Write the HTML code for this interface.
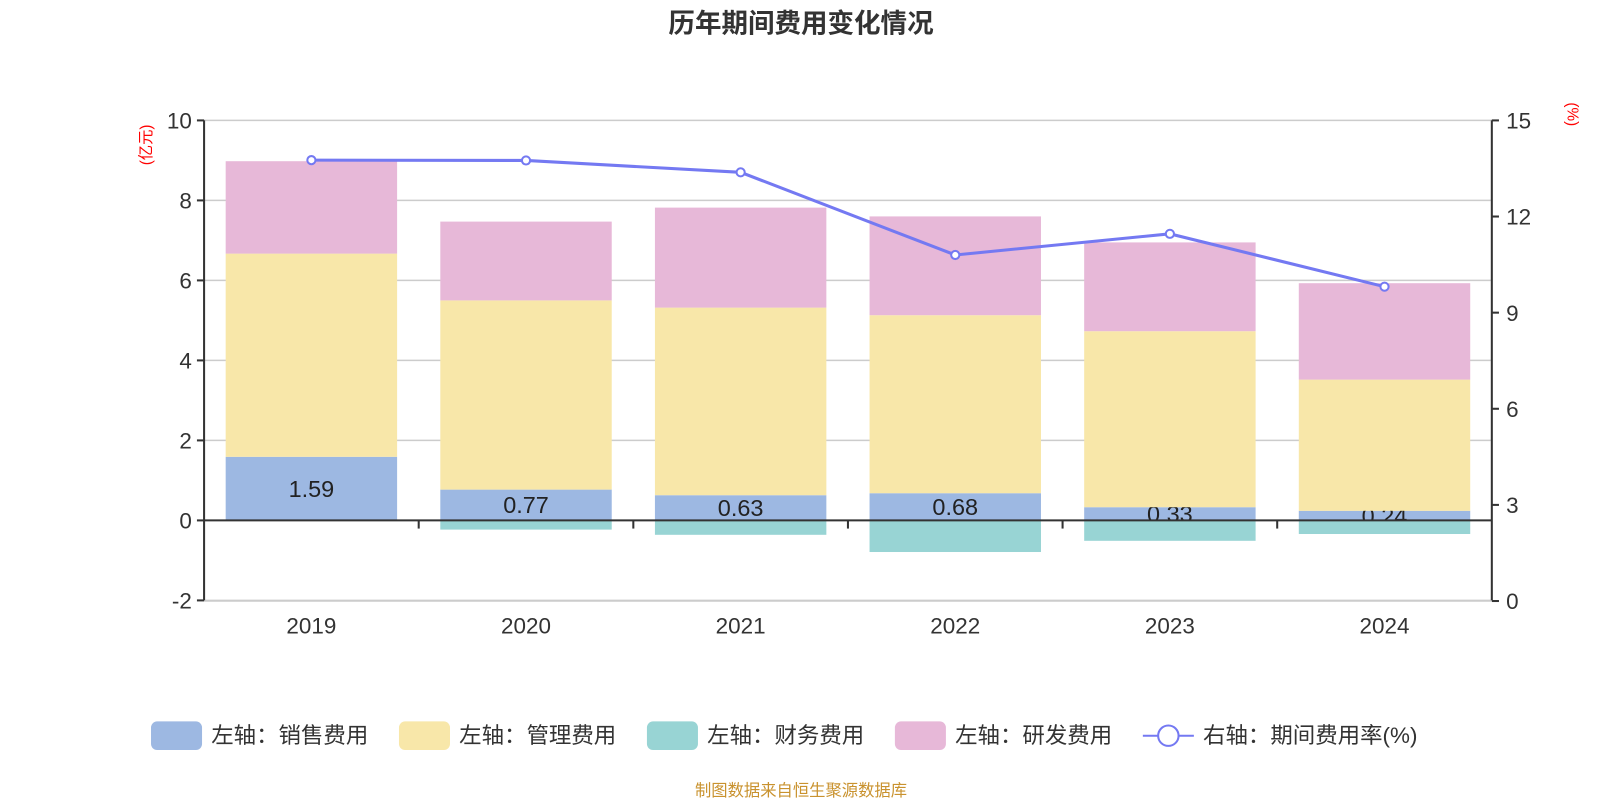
<!DOCTYPE html>
<html><head><meta charset="utf-8"><style>
html,body{margin:0;padding:0;background:#fff;width:1600px;height:800px;overflow:hidden}
svg{display:block;font-family:"Liberation Sans","Noto Sans CJK SC",sans-serif}
</style></head><body>
<svg width="1600" height="800"><g id="c" transform="scale(1.0204)"></g></svg>
<script>
const categories=['2019','2020','2021','2022','2023','2024'];
const sales=[1.59,0.77,0.63,0.68,0.33,0.24];
const mgmt=[5.08,4.73,4.69,4.45,4.40,3.28];
const finance=[0,-0.23,-0.36,-0.79,-0.51,-0.34];
const rnd=[2.31,1.97,2.50,2.47,2.22,2.41];
const rate=[13.76,13.75,13.38,10.8,11.46,9.81];
const leftTicks=[-2,0,2,4,6,8,10];
const rightTicks=[0,3,6,9,12,15];
const NS='http://www.w3.org/2000/svg';
const svg=document.getElementById('c');
const X0=200,X1=1462,band=(X1-X0)/categories.length,barW=168;
const yL=v=>510-v*39.2;
const yR=v=>589-v*31.4;
const xC=i=>X0+band*(i+0.5);
function mk(t,a,txt){const e=document.createElementNS(NS,t);for(const k in a)e.setAttribute(k,a[k]);if(txt!==undefined)e.textContent=txt;svg.appendChild(e);return e;}
let e;
e=mk('text',{x:785,y:32,'text-anchor':'middle','font-size':26,'font-weight':'bold',fill:'#333'},'历年期间费用变化情况');

leftTicks.forEach(v=>{
 if(v!==0){e=mk('line',{x1:X0,x2:X1,y1:yL(v),y2:yL(v),stroke:'#ccc','stroke-width':1.5});}
 mk('line',{x1:X0-7,x2:X0,y1:yL(v),y2:yL(v),stroke:'#333','stroke-width':2});
 e=mk('text',{x:X0-12,y:yL(v)+8,'text-anchor':'end','font-size':22,fill:'#333'},String(v));
 
});
rightTicks.forEach(v=>{
 mk('line',{x1:X1,x2:X1+7,y1:yR(v),y2:yR(v),stroke:'#333','stroke-width':2});
 e=mk('text',{x:X1+14,y:yR(v)+8,'font-size':22,fill:'#333'},String(v));
 
});
mk('line',{x1:X0,x2:X0,y1:118,y2:589,stroke:'#333','stroke-width':2});
mk('line',{x1:X1,x2:X1,y1:118,y2:589,stroke:'#333','stroke-width':2});
e=mk('text',{transform:'translate(148,142) rotate(-90)','text-anchor':'middle','font-size':15,fill:'red'},'(亿元)');

e=mk('text',{transform:'translate(1536,112) rotate(90)','text-anchor':'middle','font-size':15,fill:'red'},'(%)');

function bar(i,lo,hi,col,name){const y1=yL(Math.max(lo,hi)),y2=yL(Math.min(lo,hi));const r=mk('rect',{x:xC(i)-barW/2,y:y1,width:barW,height:Math.max(0,y2-y1),fill:col});}
categories.forEach((c,i)=>{
 bar(i,0,sales[i],'#9db8e2','bar-sales-'+c);
 e=mk('text',{x:xC(i),y:yL(sales[i]/2)+8,'text-anchor':'middle','font-size':23,fill:'#222'},sales[i].toFixed(2));
 
 bar(i,sales[i],sales[i]+mgmt[i],'#f8e7a9','bar-mgmt-'+c);
 bar(i,sales[i]+mgmt[i],sales[i]+mgmt[i]+rnd[i],'#e7b8d8','bar-rnd-'+c);
 bar(i,0,finance[i],'#98d4d4','bar-finance-'+c);
});
mk('line',{x1:X0,x2:X1,y1:yL(0),y2:yL(0),stroke:'#333','stroke-width':2});
for(let i=1;i<categories.length;i++)mk('line',{x1:X0+band*i,x2:X0+band*i,y1:yL(0),y2:yL(0)+8,stroke:'#333','stroke-width':2});
mk('line',{x1:X0,x2:X1,y1:589,y2:589,stroke:'#ccc','stroke-width':1.5});
categories.forEach((c,i)=>{e=mk('text',{x:xC(i),y:621,'text-anchor':'middle','font-size':22,fill:'#333'},c);});
e=mk('polyline',{points:rate.map((v,i)=>xC(i)+','+yR(v)).join(' '),fill:'none',stroke:'#7479f2','stroke-width':3});

rate.forEach((v,i)=>{e=mk('circle',{cx:xC(i),cy:yR(v),r:4,fill:'#fff',stroke:'#7479f2','stroke-width':2});});
const leg=[['#9db8e2','左轴：销售费用',148],['#f8e7a9','左轴：管理费用',391],['#98d4d4','左轴：财务费用',634],['#e7b8d8','左轴：研发费用',877]];
leg.forEach(l=>{
 e=mk('rect',{x:l[2],y:707,width:50,height:28,rx:6,fill:l[0]});
 e=mk('text',{x:l[2]+59,y:728,'font-size':22,fill:'#333'},l[1]);
});
mk('line',{x1:1120,x2:1170,y1:721,y2:721,stroke:'#7479f2','stroke-width':2});
e=mk('circle',{cx:1145,cy:721,r:10,fill:'#fff',stroke:'#7479f2','stroke-width':2});
e=mk('text',{x:1179,y:728,'font-size':22,fill:'#333'},'右轴：期间费用率(%)');
e=mk('text',{x:785,y:780,'text-anchor':'middle','font-size':16,fill:'#c9922e'},'制图数据来自恒生聚源数据库');

</script>
</body></html>
